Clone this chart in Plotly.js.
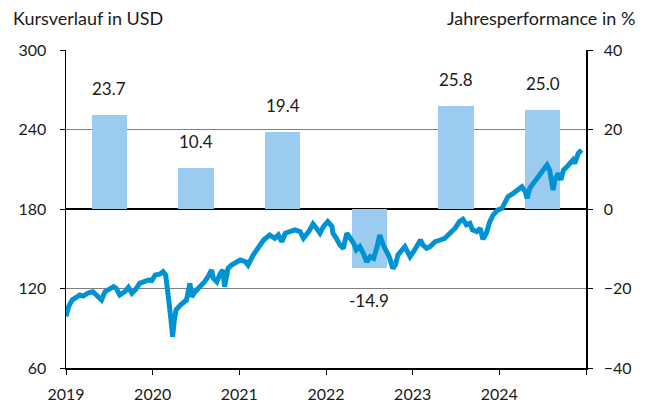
<!DOCTYPE html>
<html>
<head>
<meta charset="utf-8">
<script src="https://cdn.plot.ly/plotly-3.0.1.min.js"></script>
<style>html,body{margin:0;padding:0;background:#fff;}#chart{width:646px;height:405px;}</style>
</head>
<body>
<div id="chart"></div>
<script>
// Annual performance (%) per year, bars centred mid-year
const barYears = [2019.5, 2020.5, 2021.5, 2022.5, 2023.5, 2024.5];
const barValues = [23.7, 10.4, 19.4, -14.9, 25.8, 25.0];

// Price path in USD (decimal year, price)
const priceDates = [
  2019.00, 2019.03, 2019.07, 2019.12, 2019.16, 2019.20, 2019.26, 2019.31, 2019.35, 2019.41,
  2019.45, 2019.51, 2019.55, 2019.58, 2019.62, 2019.68, 2019.72, 2019.76, 2019.80, 2019.85,
  2019.91, 2019.95, 2019.99, 2020.03, 2020.08, 2020.12, 2020.15, 2020.17, 2020.19, 2020.22,
  2020.23, 2020.25, 2020.27, 2020.32, 2020.35, 2020.39, 2020.43, 2020.45, 2020.49, 2020.55,
  2020.60, 2020.64, 2020.68, 2020.70, 2020.74, 2020.78, 2020.81, 2020.83, 2020.87, 2020.91,
  2020.97, 2021.01, 2021.07, 2021.10, 2021.16, 2021.22, 2021.28, 2021.35, 2021.41, 2021.45,
  2021.49, 2021.53, 2021.58, 2021.64, 2021.70, 2021.74, 2021.80, 2021.85, 2021.89, 2021.93,
  2021.97, 2022.02, 2022.07, 2022.08, 2022.12, 2022.16, 2022.20, 2022.24, 2022.28, 2022.32,
  2022.35, 2022.39, 2022.43, 2022.47, 2022.51, 2022.55, 2022.59, 2022.62, 2022.66, 2022.70,
  2022.73, 2022.77, 2022.80, 2022.83, 2022.87, 2022.91, 2022.94, 2022.97, 2023.01, 2023.05,
  2023.09, 2023.12, 2023.16, 2023.20, 2023.26, 2023.32, 2023.37, 2023.43, 2023.49, 2023.54,
  2023.58, 2023.62, 2023.66, 2023.69, 2023.74, 2023.78, 2023.81, 2023.85, 2023.89, 2023.93,
  2023.98, 2024.03, 2024.07, 2024.10, 2024.16, 2024.22, 2024.26, 2024.30, 2024.32, 2024.35,
  2024.39, 2024.43, 2024.47, 2024.51, 2024.55, 2024.58, 2024.62, 2024.64, 2024.68, 2024.71,
  2024.74, 2024.78, 2024.82, 2024.85, 2024.87, 2024.89, 2024.91, 2024.95
];
const priceValues = [
  99.0, 106.3, 111.3, 113.8, 115.1, 114.3, 116.8, 117.6, 115.1, 111.3,
  117.6, 120.1, 121.4, 120.1, 115.1, 117.6, 120.9, 116.4, 118.9, 123.9,
  125.1, 126.4, 126.0, 130.2, 130.8, 132.7, 130.2, 121.4, 108.8, 91.2,
  83.6, 96.2, 103.8, 107.5, 108.8, 111.3, 123.9, 113.8, 117.6, 121.4,
  125.1, 128.9, 134.0, 127.7, 125.1, 131.4, 134.0, 121.4, 135.2, 137.7,
  139.5, 141.5, 140.2, 137.7, 145.3, 151.5, 156.6, 160.4, 157.9, 160.4,
  155.3, 161.7, 162.9, 164.2, 162.9, 157.9, 162.9, 168.7, 165.5, 161.7,
  166.7, 170.5, 166.7, 161.7, 157.9, 152.8, 150.3, 161.7, 157.9, 154.1,
  149.1, 151.6, 146.6, 140.2, 144.0, 142.8, 151.6, 160.4, 152.8, 147.8,
  144.0, 135.2, 137.7, 145.3, 149.1, 151.6, 147.8, 144.0, 147.8, 151.6,
  156.6, 152.8, 150.3, 151.6, 155.3, 156.6, 157.9, 161.7, 165.5, 170.5,
  172.3, 168.1, 169.2, 164.2, 162.9, 165.5, 157.2, 161.7, 170.5, 175.5,
  179.2, 180.5, 185.5, 189.3, 191.8, 194.3, 196.8, 193.0, 188.0, 195.6,
  199.4, 201.9, 206.9, 209.4, 213.2, 209.4, 194.3, 201.9, 206.9, 201.9,
  209.4, 211.9, 214.4, 217.0, 214.4, 219.4, 222.0, 224.5
];

const xTickVals = [2019, 2020, 2021, 2022, 2023, 2024, 2025];
const xTickText = ['2019', '2020', '2021', '2022', '2023', '2024', ''];
const priceTicks = [60, 120, 180, 240, 300];
const perfTicks = [-40, -20, 0, 20, 40];

const FONT = 'Lato, "Open Sans", sans-serif';
const TXT = '#1a1a1a';

const traces = [
  {
    type: 'bar', x: barYears, y: barValues, yaxis: 'y', width: 0.41,
    marker: {color: '#9ccbf0', line: {width: 0}}, hoverinfo: 'skip'
  },
  {
    type: 'scatter', mode: 'lines', x: priceDates, y: priceValues, yaxis: 'y2',
    line: {color: '#0093d3', width: 5, shape: 'linear'}, hoverinfo: 'skip'
  }
];

const annotations = barValues.map((v, i) => ({
  x: barYears[i], y: v, xref: 'x', yref: 'y',
  text: v.toFixed(1), showarrow: false,
  yanchor: v >= 0 ? 'bottom' : 'top',
  yshift: v >= 0 ? 14 : -20,
  font: {family: FONT, size: 17, color: TXT}
}));
// Axis headers (plot area spans 520 x 318 px)
annotations.push({
  x: -55 / 520, y: 1 + 32 / 318, xref: 'paper', yref: 'paper', xanchor: 'left', yanchor: 'middle',
  text: 'Kursverlauf in USD', showarrow: false, font: {family: FONT, size: 18, color: TXT}
});
annotations.push({
  x: 1 + 51 / 520, y: 1 + 32 / 318, xref: 'paper', yref: 'paper', xanchor: 'right', yanchor: 'middle',
  text: 'Jahresperformance in %', showarrow: false, font: {family: FONT, size: 18, color: TXT}
});

const layout = {
  width: 646, height: 405,
  margin: {l: 66, r: 60, t: 50, b: 37, pad: 0},
  paper_bgcolor: '#ffffff', plot_bgcolor: '#ffffff',
  showlegend: false,
  bargap: 0,
  font: {family: FONT, size: 16, color: TXT},
  xaxis: {
    range: [2019, 2025], tickmode: 'array', tickvals: xTickVals, ticktext: xTickText,
    showgrid: false, zeroline: false, showline: true, linecolor: '#000', linewidth: 1.5,
    ticks: 'outside', ticklen: 5, tickcolor: '#000', tickwidth: 1,
    ticklabelstandoff: 6,
    tickfont: {family: FONT, size: 16, color: TXT}
  },
  yaxis: {
    range: [-40, 40], side: 'right', tickmode: 'array', tickvals: perfTicks,
    showgrid: true, gridcolor: '#7f7f7f', gridwidth: 1.5,
    zeroline: true, zerolinecolor: '#000', zerolinewidth: 1.5,
    showline: true, linecolor: '#000', linewidth: 1.5,
    ticks: 'outside', ticklen: 5, tickcolor: '#000', tickwidth: 1,
    ticklabelstandoff: 8,
    tickfont: {family: FONT, size: 16, color: TXT}
  },
  yaxis2: {
    range: [60, 300], overlaying: 'y', side: 'left', tickmode: 'array', tickvals: priceTicks,
    showgrid: false, zeroline: false,
    showline: true, linecolor: '#000', linewidth: 1.5,
    ticks: 'outside', ticklen: 5, tickcolor: '#000', tickwidth: 1,
    ticklabelstandoff: 10,
    tickfont: {family: FONT, size: 16, color: TXT}
  },
  annotations: annotations
};

Plotly.newPlot('chart', traces, layout, {displayModeBar: false, staticPlot: true});
</script>
</body>
</html>
